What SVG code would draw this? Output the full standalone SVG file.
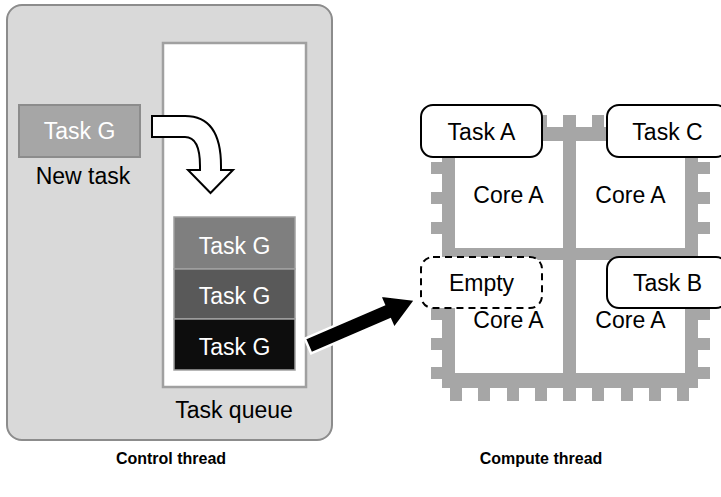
<svg xmlns="http://www.w3.org/2000/svg" width="721" height="497" viewBox="0 0 721 497">
  <style>
    text { font-family: "Liberation Sans", Arial, sans-serif; font-size: 23px; text-anchor: middle; }
    .light { fill: #ffffff; }
    .dark { fill: #000000; }
    .caption { font-size: 16px; font-weight: bold; fill: #000000; }
    .chip { fill: #a6a6a6; }
    .slot { fill: #ffffff; stroke: #000000; stroke-width: 2; }
    .slot-empty { fill: #ffffff; stroke: #000000; stroke-width: 2; stroke-dasharray: 7 5; }
    .qitem { stroke: #a0a0a0; stroke-width: 1.5; }
  </style>

  <!-- Control thread panel -->
  <g id="control-thread">
    <rect x="7" y="5" width="325" height="435" rx="15" fill="#d9d9d9" stroke="#8c8c8c" stroke-width="2"/>
  </g>

  <!-- Task queue container -->
  <g id="task-queue">
    <rect x="163" y="43" width="143" height="344" fill="#ffffff" stroke="#a0a0a0" stroke-width="2.5"/>
    <text x="234" y="418" class="dark">Task queue</text>
  </g>

  <!-- Incoming task -->
  <g id="new-task">
    <rect x="19" y="105" width="121" height="52" fill="#a6a6a6" stroke="#8c8c8c" stroke-width="2"/>
    <text x="79.5" y="139" class="light">Task G</text>
    <text x="83" y="184" class="dark">New task</text>
  </g>

  <!-- Queued tasks -->
  <g id="queue-item-1">
    <rect x="174" y="217" width="121" height="52" fill="#7f7f7f" class="qitem"/>
    <text x="234.5" y="254" class="light">Task G</text>
  </g>
  <g id="queue-item-2">
    <rect x="174" y="269" width="121" height="50" fill="#595959" class="qitem"/>
    <text x="234.5" y="304" class="light">Task G</text>
  </g>
  <g id="queue-item-3">
    <rect x="174" y="319" width="121" height="51" fill="#0d0d0d" class="qitem"/>
    <text x="234.5" y="355" class="light">Task G</text>
  </g>

  <!-- Processor package with four cores -->
  <g id="processor">
    <!-- frame and dividers -->
    <rect class="chip" x="442" y="127" width="256" height="14"/>
    <rect class="chip" x="442" y="373" width="256" height="15"/>
    <rect class="chip" x="442" y="127" width="13" height="261"/>
    <rect class="chip" x="685" y="127" width="13" height="261"/>
    <rect class="chip" x="563" y="115" width="13" height="286"/>
    <rect class="chip" x="442" y="248" width="256" height="12"/>
    <!-- top pins -->
    <rect class="chip" x="450" y="115" width="12" height="12"/>
    <rect class="chip" x="478" y="115" width="12" height="12"/>
    <rect class="chip" x="507" y="115" width="12" height="12"/>
    <rect class="chip" x="535" y="115" width="12" height="12"/>
    <rect class="chip" x="592" y="115" width="12" height="12"/>
    <rect class="chip" x="621" y="115" width="12" height="12"/>
    <rect class="chip" x="649" y="115" width="12" height="12"/>
    <rect class="chip" x="677" y="115" width="12" height="12"/>
    <!-- bottom pins -->
    <rect class="chip" x="450" y="388" width="12" height="13"/>
    <rect class="chip" x="478" y="388" width="12" height="13"/>
    <rect class="chip" x="507" y="388" width="12" height="13"/>
    <rect class="chip" x="535" y="388" width="12" height="13"/>
    <rect class="chip" x="592" y="388" width="12" height="13"/>
    <rect class="chip" x="621" y="388" width="12" height="13"/>
    <rect class="chip" x="649" y="388" width="12" height="13"/>
    <rect class="chip" x="677" y="388" width="12" height="13"/>
    <!-- left pins -->
    <rect class="chip" x="431" y="162" width="11" height="12"/>
    <rect class="chip" x="431" y="192" width="11" height="12"/>
    <rect class="chip" x="431" y="222" width="11" height="12"/>
    <rect class="chip" x="431" y="278" width="11" height="12"/>
    <rect class="chip" x="431" y="308" width="11" height="12"/>
    <rect class="chip" x="431" y="338" width="11" height="12"/>
    <rect class="chip" x="431" y="367" width="11" height="12"/>
    <!-- right pins -->
    <rect class="chip" x="698" y="162" width="12" height="12"/>
    <rect class="chip" x="698" y="192" width="12" height="12"/>
    <rect class="chip" x="698" y="222" width="12" height="12"/>
    <rect class="chip" x="698" y="278" width="12" height="12"/>
    <rect class="chip" x="698" y="308" width="12" height="12"/>
    <rect class="chip" x="698" y="338" width="12" height="12"/>
    <rect class="chip" x="698" y="367" width="12" height="12"/>
  </g>

  <!-- Core slots -->
  <g id="core-top-left">
    <rect class="slot" x="421" y="105" width="121" height="52" rx="12"/>
    <text x="481.5" y="140" class="dark">Task A</text>
    <text x="508.5" y="203" class="dark">Core A</text>
  </g>
  <g id="core-top-right">
    <rect class="slot" x="607" y="105" width="121" height="52" rx="12"/>
    <text x="667.5" y="140" class="dark">Task C</text>
    <text x="630.5" y="203" class="dark">Core A</text>
  </g>
  <g id="core-bottom-left">
    <rect class="slot-empty" x="421" y="257" width="121" height="51" rx="12"/>
    <text x="481.5" y="291" class="dark">Empty</text>
    <text x="508.5" y="328" class="dark">Core A</text>
  </g>
  <g id="core-bottom-right">
    <rect class="slot" x="607" y="257" width="121" height="51" rx="12"/>
    <text x="667.5" y="291" class="dark">Task B</text>
    <text x="630.5" y="328" class="dark">Core A</text>
  </g>

  <!-- Connectors -->
  <g id="connectors">
    <!-- enqueue: new task drops into the queue -->
    <path d="M152,116 H185 Q221,116 221,166 V170 H233 L210.5,193 L188,170 H200 V166 Q200,137 185,137 H152 Z"
          fill="#ffffff" stroke="#000000" stroke-width="2" stroke-linejoin="miter"/>
    <!-- dispatch: queued task goes to the idle core -->
    <g transform="translate(308,346) rotate(-23.3)">
      <polygon points="0,-8 86,-8 86,-18 117,0 86,18 86,8 0,8"
               fill="#000000" stroke="#ffffff" stroke-width="2.5" stroke-linejoin="miter"/>
    </g>
  </g>

  <!-- Captions -->
  <g id="captions">
    <text x="171" y="464" class="caption">Control thread</text>
    <text x="541" y="464" class="caption">Compute thread</text>
  </g>
</svg>
